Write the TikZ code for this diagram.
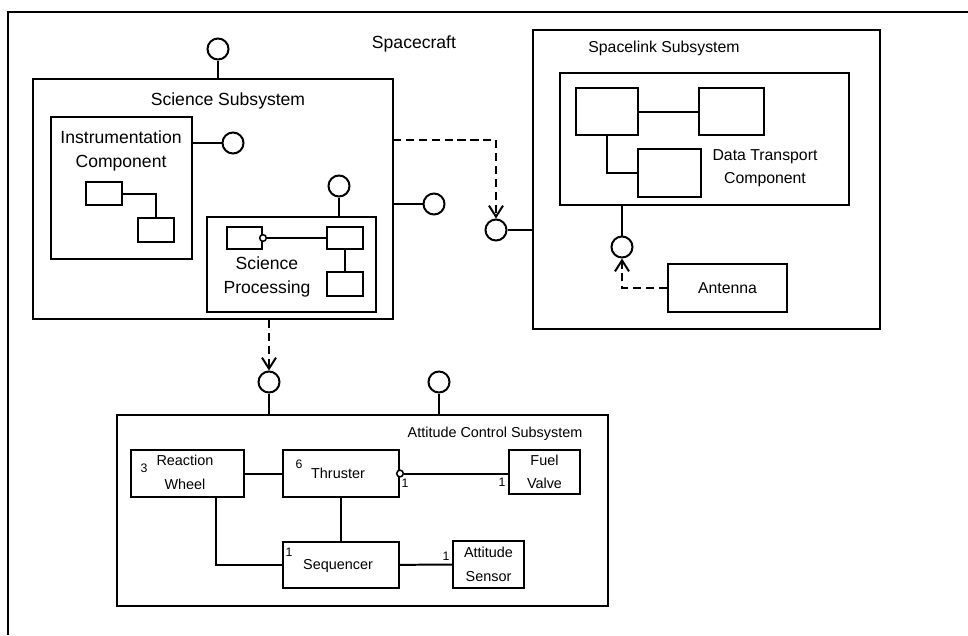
\documentclass[tikz,border=0pt]{standalone}
\usepackage{fontspec}
\setmainfont{Liberation Sans}
\usetikzlibrary{fit,arrows.meta}

\begin{document}
\begin{tikzpicture}[
    x=0.03cm, y=-0.03cm,
    font=\fontsize{15}{20.4}\selectfont,
    box/.style={rectangle, draw, line width=1.7pt, inner sep=0pt},
    port/.style={circle, draw, line width=1.7pt, inner sep=0pt, minimum size=0.63cm},
    ball/.style={circle, draw, line width=1.3pt, fill=white, inner sep=0pt, minimum size=0.2cm},
    lbl/.style={align=center, inner sep=0pt},
    slLbl/.style={lbl, font=\fontsize{13.5}{19.6}\selectfont},
    acLbl/.style={lbl, font=\fontsize{12.3}{20}\selectfont},
    mult/.style={inner sep=0pt, font=\fontsize{10.5}{12}\selectfont},
    link/.style={line width=1.7pt},
    dep/.style={line width=1.7pt, dash pattern=on 7pt off 4pt, -{Straight Barb[length=0.33cm, width=0.42cm]}}
]
\useasboundingbox (0,0) rectangle (968,635);

% frame
\draw[link] (8,635) -- (8,12) -- (968,12);
\node (scLbl) [lbl] at (414,44) {Spacecraft};

% science subsystem
\node (ss) [box, fit={(33,79) (393,319)}] {};
\node (ssLbl) [lbl] at (228,101) {Science Subsystem};
\node (ic) [box, fit={(51,117) (192,259)}] {};
\node (icLbl) [lbl] at (121,151) {Instrumentation\\Component};
\node (ic1) [box, fit={(86,182) (122,205)}] {};
\node (ic2) [box, fit={(138,218) (174,242)}] {};
\node (sp) [box, fit={(207,217) (376,312)}] {};
\node (spLbl) [lbl] at (267,276.5) {Science\\Processing};
\node (spA) [box, fit={(227,227) (262,249)}] {};
\node (spB) [box, fit={(327,227) (363,249)}] {};
\node (spC) [box, fit={(327,272) (363,296)}] {};
\node (spBall) [ball] at (spA.east) {};
\node (ssTop) [port] at (218,49) {};
\node (ssRight) [port] at (434,204) {};
\node (icPort) [port] at (233,143) {};
\node (spPort) [port] at (339,186) {};
\coordinate (ssOut) at (393,140);

% spacelink subsystem
\node (sl) [box, fit={(533,30) (880,329)}] {};
\node (slTitle) [slLbl] at (664,48) {Spacelink Subsystem};
\node (dt) [box, fit={(560,73) (849,205)}] {};
\node (dtLbl) [slLbl] at (765,168.5) {Data Transport\\Component};
\node (dt1) [box, fit={(576,88) (638,135)}] {};
\node (dt2) [box, fit={(699,88) (764,135)}] {};
\node (dt3) [box, fit={(638,149) (701,197)}] {};
\node (ant) [box, fit={(668,264) (787,312)}] {};
\node (antLbl) [slLbl] at (ant) {Antenna};
\node (slPort) [port] at (496,230) {};
\node (dtPort) [port] at (622,247) {};

% attitude control subsystem
\node (ac) [box, fit={(117,415) (608,606)}] {};
\node (acTitle) [acLbl] at (495,434) {Attitude Control Subsystem};
\node (rw) [box, fit={(131,450) (244,497)}] {};
\node (rwLbl) [acLbl] at (185,472.5) {Reaction\\Wheel};
\node (th) [box, fit={(283,450) (399,497)}] {};
\node (thLbl) [acLbl] at (338,473) {Thruster};
\node (fv) [box, fit={(509,450) (580,494)}] {};
\node (fvLbl) [acLbl] at (fv) {Fuel\\Valve};
\node (sq) [box, fit={(283,542) (399,588)}] {};
\node (sqLbl) [acLbl] at (338,566) {Sequencer};
\node (as) [box, fit={(453,541) (524,588)}] {};
\node (asLbl) [acLbl] at (as) {Attitude\\Sensor};
\node (thBall) [ball] at (th.east) {};
\node (rwN) [mult] at (144,468) {3};
\node (thN) [mult] at (299,464) {6};
\node (thFvN) [mult] at (405,483) {1};
\node (fvN) [mult] at (502,482) {1};
\node (sqN) [mult] at (289,552) {1};
\node (asN) [mult] at (446,556) {1};
\node (acPortL) [port] at (269,382) {};
\node (acPortR) [port] at (439,382) {};
\coordinate (rwDown) at (216,497);

% connectors
\draw[link] (ic1) -| (ic2);
\draw[link] (spBall) -- (spB);
\draw[link] (spB) -- (spC);
\draw[link] (ssTop) -- (ssTop |- ss.north);
\draw[link] (icPort) -- (icPort -| ic.east);
\draw[link] (spPort) -- (spPort |- sp.north);
\draw[link] (ssRight) -- (ssRight -| ss.east);
\draw[dep] (ssOut) -| (slPort);
\draw[link] (slPort) -- (slPort -| sl.west);
\draw[link] (dt1) -- (dt2);
\draw[link] (dt1) |- (dt3);
\draw[link] (dtPort) -- (dtPort |- dt.south);
\draw[dep] (ant) -| (dtPort);
\draw[dep] (acPortL |- ss.south) -- (acPortL);
\draw[link] (acPortL) -- (acPortL |- ac.north);
\draw[link] (acPortR) -- (acPortR |- ac.north);
\draw[link] (rw) -- (th);
\draw[link] (thBall) -- (thBall -| fv.west);
\draw[link] (th) -- (sq);
\draw[link] (rwDown) |- (sq);
\draw[link] (sq) -- (as);

\end{tikzpicture}
\end{document}
